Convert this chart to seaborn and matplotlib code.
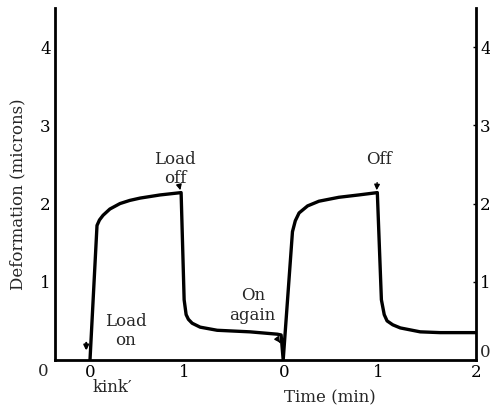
import numpy as np
import pandas as pd
import matplotlib
matplotlib.use("Agg")
import matplotlib.pyplot as plt
import seaborn as sns

# ---- data (time in minutes along a continuous axis, deformation in microns)
time_min = [0.0, 0.074, 0.10, 0.138, 0.21, 0.317, 0.42, 0.53, 0.74, 0.963,
            0.995, 1.016, 1.04, 1.08, 1.164, 1.344, 1.69, 1.98, 2.02,
            2.042, 2.14, 2.17, 2.21, 2.30, 2.42, 2.63, 2.84, 3.037,
            3.08, 3.11, 3.14, 3.20, 3.28, 3.49, 3.70, 4.08]
deformation = [0.0, 1.72, 1.79, 1.85, 1.93, 2.0, 2.04, 2.07, 2.11, 2.14,
               0.77, 0.58, 0.52, 0.47, 0.42, 0.38, 0.36, 0.33, 0.32,
               0.0, 1.64, 1.78, 1.88, 1.97, 2.03, 2.08, 2.11, 2.14,
               0.77, 0.58, 0.50, 0.45, 0.41, 0.36, 0.35, 0.35]
x_tick_pos = [0.0, 1.0, 2.05, 3.05, 4.08]
x_tick_labels = ["0", "1", "0", "1", "2"]
y_ticks = [0, 1, 2, 3, 4]

df = pd.DataFrame({"t": time_min, "d": deformation})

sns.set_style("white")
plt.rcParams["font.family"] = ["DejaVu Serif", "Liberation Serif"]

fig = plt.figure(figsize=(4.9, 4.09), dpi=100)
ax = fig.add_axes([55/490, 49/409, 421/490, 352/409])

sns.lineplot(data=df, x="t", y="d", ax=ax, color="black", linewidth=2.4,
             sort=False, estimator=None)

ax.set_xlim(-0.37, 4.08)
ax.set_ylim(0, 4.5)
ax.set_xticks(x_tick_pos)
ax.set_xticklabels(x_tick_labels)
ax.set_yticks(y_ticks)
ax.set_yticklabels(["", "1", "2", "3", "4"])

for s in ["left", "right", "bottom"]:
    ax.spines[s].set_visible(True)
    ax.spines[s].set_color("black")
    ax.spines[s].set_linewidth(2.0)
ax.spines["top"].set_visible(False)

fs = 12
ax.tick_params(axis="both", direction="in", length=2, width=1,
               labelsize=fs, colors="black", pad=3)
ax.tick_params(axis="y", right=True, labelright=True, pad=3)
ax.tick_params(axis="x", pad=3)
ax.set_xlabel("")
ax.set_ylabel("Deformation (microns)", fontsize=fs)
ax.yaxis.set_label_coords(-0.069, 0.47)

# extra "0" labels at lower left and lower right
ax.text(-0.016, -0.033, "0", transform=ax.transAxes, ha="right", va="center",
        fontsize=fs)
ax.text(1.01, 0.022, "0", transform=ax.transAxes, ha="left", va="center",
        fontsize=fs)

# annotations
ax.annotate("Load\noff", xy=(0.955, 2.17), xytext=(0.90, 2.44),
            ha="center", va="center", fontsize=fs, multialignment="center",
            arrowprops=dict(arrowstyle="-|>", color="black", lw=1,
                            mutation_scale=8, shrinkA=12, shrinkB=0))
ax.annotate("Off", xy=(3.03, 2.17), xytext=(3.05, 2.56),
            ha="center", va="center", fontsize=fs,
            arrowprops=dict(arrowstyle="-|>", color="black", lw=1,
                            mutation_scale=8, shrinkA=8, shrinkB=0))
ax.annotate("On\nagain", xy=(2.01, 0.22), xytext=(1.72, 0.70),
            ha="center", va="center", fontsize=fs, multialignment="center",
            arrowprops=dict(arrowstyle="-|>", color="black", lw=1,
                            mutation_scale=8, shrinkA=14, shrinkB=0))
ax.text(0.38, 0.37, "Load\non", ha="center", va="center", fontsize=fs,
        multialignment="center")
ax.annotate("", xy=(-0.04, 0.12), xytext=(-0.04, 0.22),
            arrowprops=dict(arrowstyle="-|>", color="black", lw=1.5,
                            mutation_scale=7, shrinkA=0, shrinkB=0))
ax.text(0.24, -0.35, "kink\u2032", ha="center", va="center", fontsize=fs,
        clip_on=False)
ax.text((330-55)/421, -38/352, "Time (min)", transform=ax.transAxes,
        ha="center", va="center", fontsize=fs)

fig.savefig("out.png", dpi=100)
